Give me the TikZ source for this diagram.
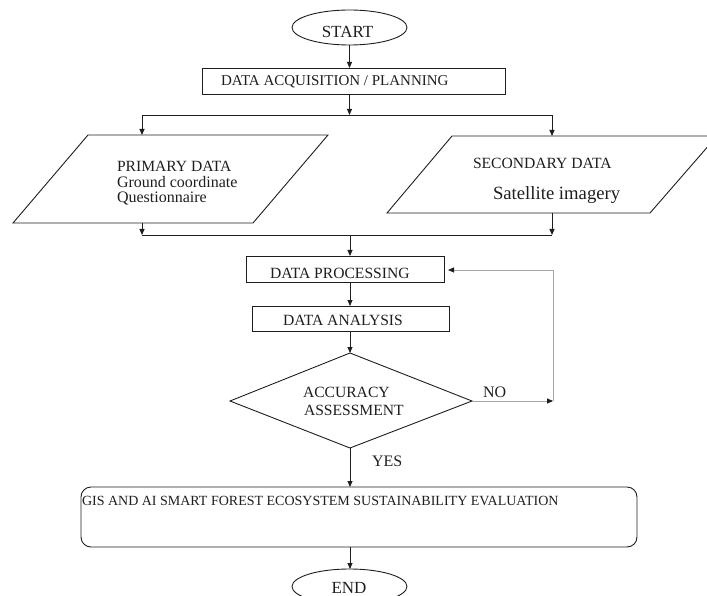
\documentclass[tikz,border=0pt]{standalone}
\usepackage{fontspec}
\setmainfont{Liberation Serif}
\usetikzlibrary{arrows.meta,shapes.geometric}
\definecolor{loopgray}{RGB}{165,165,165}
\definecolor{ink}{RGB}{30,30,30}
\begin{document}
\begin{tikzpicture}[x=1pt,y=-1pt,
  line/.style={line width=0.9pt, draw=ink},
  tip/.style={-{Triangle[length=6pt,width=5pt,color=ink]}},
  arr/.style={line, tip},
  gline/.style={line width=0.9pt, draw=loopgray},
  boxnode/.style={draw=ink, line width=0.9pt, rectangle, inner sep=0pt, outer sep=0pt, anchor=north west},
  ovalnode/.style={draw=ink, line width=0.9pt, ellipse, inner sep=0pt, outer sep=0pt, minimum width=115pt, minimum height=35pt},
  txt/.style={inner sep=0pt, outer sep=0pt, text=ink},
  f14/.style={font=\fontsize{14}{14}\selectfont},
  f15/.style={font=\fontsize{15}{15}\selectfont},
  f155/.style={font=\fontsize{15.6}{15.6}\selectfont},
  f16/.style={font=\fontsize{16}{16}\selectfont},
  f17/.style={font=\fontsize{17}{17}\selectfont},
  f18/.style={font=\fontsize{18.7}{18.7}\selectfont},
]
\useasboundingbox (0,0) rectangle (707,596);

% ---- shapes ----
\node[ovalnode] (start) at (349.5,27.5) {};
\node[txt,f17,anchor=base] (tstart) at (347.5,38) {START};

\node[boxnode, minimum width=303pt, minimum height=26pt] (acq) at (202,68) {};
\node[txt,f15,anchor=base west] (tacq) at (221,86) {DATA ACQUISITION / PLANNING};

% primary data parallelogram
\coordinate (pa) at (88,135);
\coordinate (pb) at (328,135);
\coordinate (pc) at (253,223);
\coordinate (pd) at (13,223);
\draw[line] (pa) -- (pb) -- (pc) -- (pd) -- cycle;
\node[txt,f155,anchor=base west] (tp1) at (117,172) {PRIMARY DATA};
\node[txt,f16,anchor=base west] (tp2) at (117,188) {Ground coordinate};
\node[txt,f16,anchor=base west] (tp3) at (117,203) {Questionnaire};

% secondary data parallelogram
\coordinate (sa) at (452,136);
\coordinate (sb) at (717,136);
\coordinate (sc) at (650,213);
\coordinate (sd) at (387,213);
\draw[line] (sa) -- (sb) -- (sc) -- (sd) -- cycle;
\node[txt,f155,anchor=base west] (ts1) at (473,169) {SECONDARY DATA};
\node[txt,f18,anchor=base west] (ts2) at (493,200) {Satellite imagery};

\node[boxnode, minimum width=198pt, minimum height=26pt] (proc) at (246,256) {};
\node[txt,f155,anchor=base west] (tproc) at (270,278) {DATA PROCESSING};

\node[boxnode, minimum width=197pt, minimum height=25pt] (ana) at (252.5,306) {};
\node[txt,f155,anchor=base west] (tana) at (283,325) {DATA ANALYSIS};

% decision diamond
\coordinate (dl) at (230,401);
\coordinate (dt) at (350,353);
\coordinate (dr) at (472,401);
\coordinate (db) at (350,448);
\draw[line] (dl) -- (dt) -- (dr) -- (db) -- cycle;
\node[txt,f155,anchor=base west] (td1) at (303,397) {ACCURACY};
\node[txt,f155,anchor=base west] (td2) at (304,415) {ASSESSMENT};

\node[boxnode, rounded corners=10pt, minimum width=556pt, minimum height=60pt] (gis) at (81,487) {};
\node[txt,f14,anchor=base west] (tgis) at (82,505) {GIS AND AI SMART FOREST ECOSYSTEM SUSTAINABILITY EVALUATION};

\node[ovalnode] (end) at (349.5,586.5) {};
\node[txt,f17,anchor=base] (tend) at (349,593) {END};

% labels
\node[txt,f16,anchor=base west] (lno) at (483,397) {NO};
\node[txt,f16,anchor=base west] (lyes) at (372,466) {YES};

% ---- connectors ----
\coordinate (split) at (349.5,115);
\coordinate (sL) at (142,115);
\coordinate (sR) at (552,115);
\coordinate (mL) at (142,235);
\coordinate (mR) at (552,235);
\coordinate (merge) at (350,235);
\coordinate (loopA) at (553,401);
\coordinate (loopB) at (553,270);

\draw[arr] (start.south) -- (start.south |- acq.north);
\draw[arr] (start.south |- acq.south) -- (split);
\draw[line] (sL) -- (sR);
\draw[arr] (sL) -- (sL |- pa);
\draw[arr] (sR) -- (sR |- sa);
\draw[arr] (mL |- pd) -- (mL);
\draw[arr] (mR |- sd) -- (mR);
\draw[line] (mL) -- (mR);
\draw[arr] (merge) -- (merge |- proc.north);
\draw[arr] (merge |- proc.south) -- (merge |- ana.north);
\draw[arr] (merge |- ana.south) -- (dt);
\draw[arr] (db) -- (db |- gis.north);
\draw[arr] (db |- gis.south) -- (db |- end.north);
\draw[gline, tip] (dr) -- (loopA);
\draw[gline, tip, shorten >=4pt] (loopA) -- (loopB) -- (loopB -| proc.east);
\end{tikzpicture}
\end{document}
